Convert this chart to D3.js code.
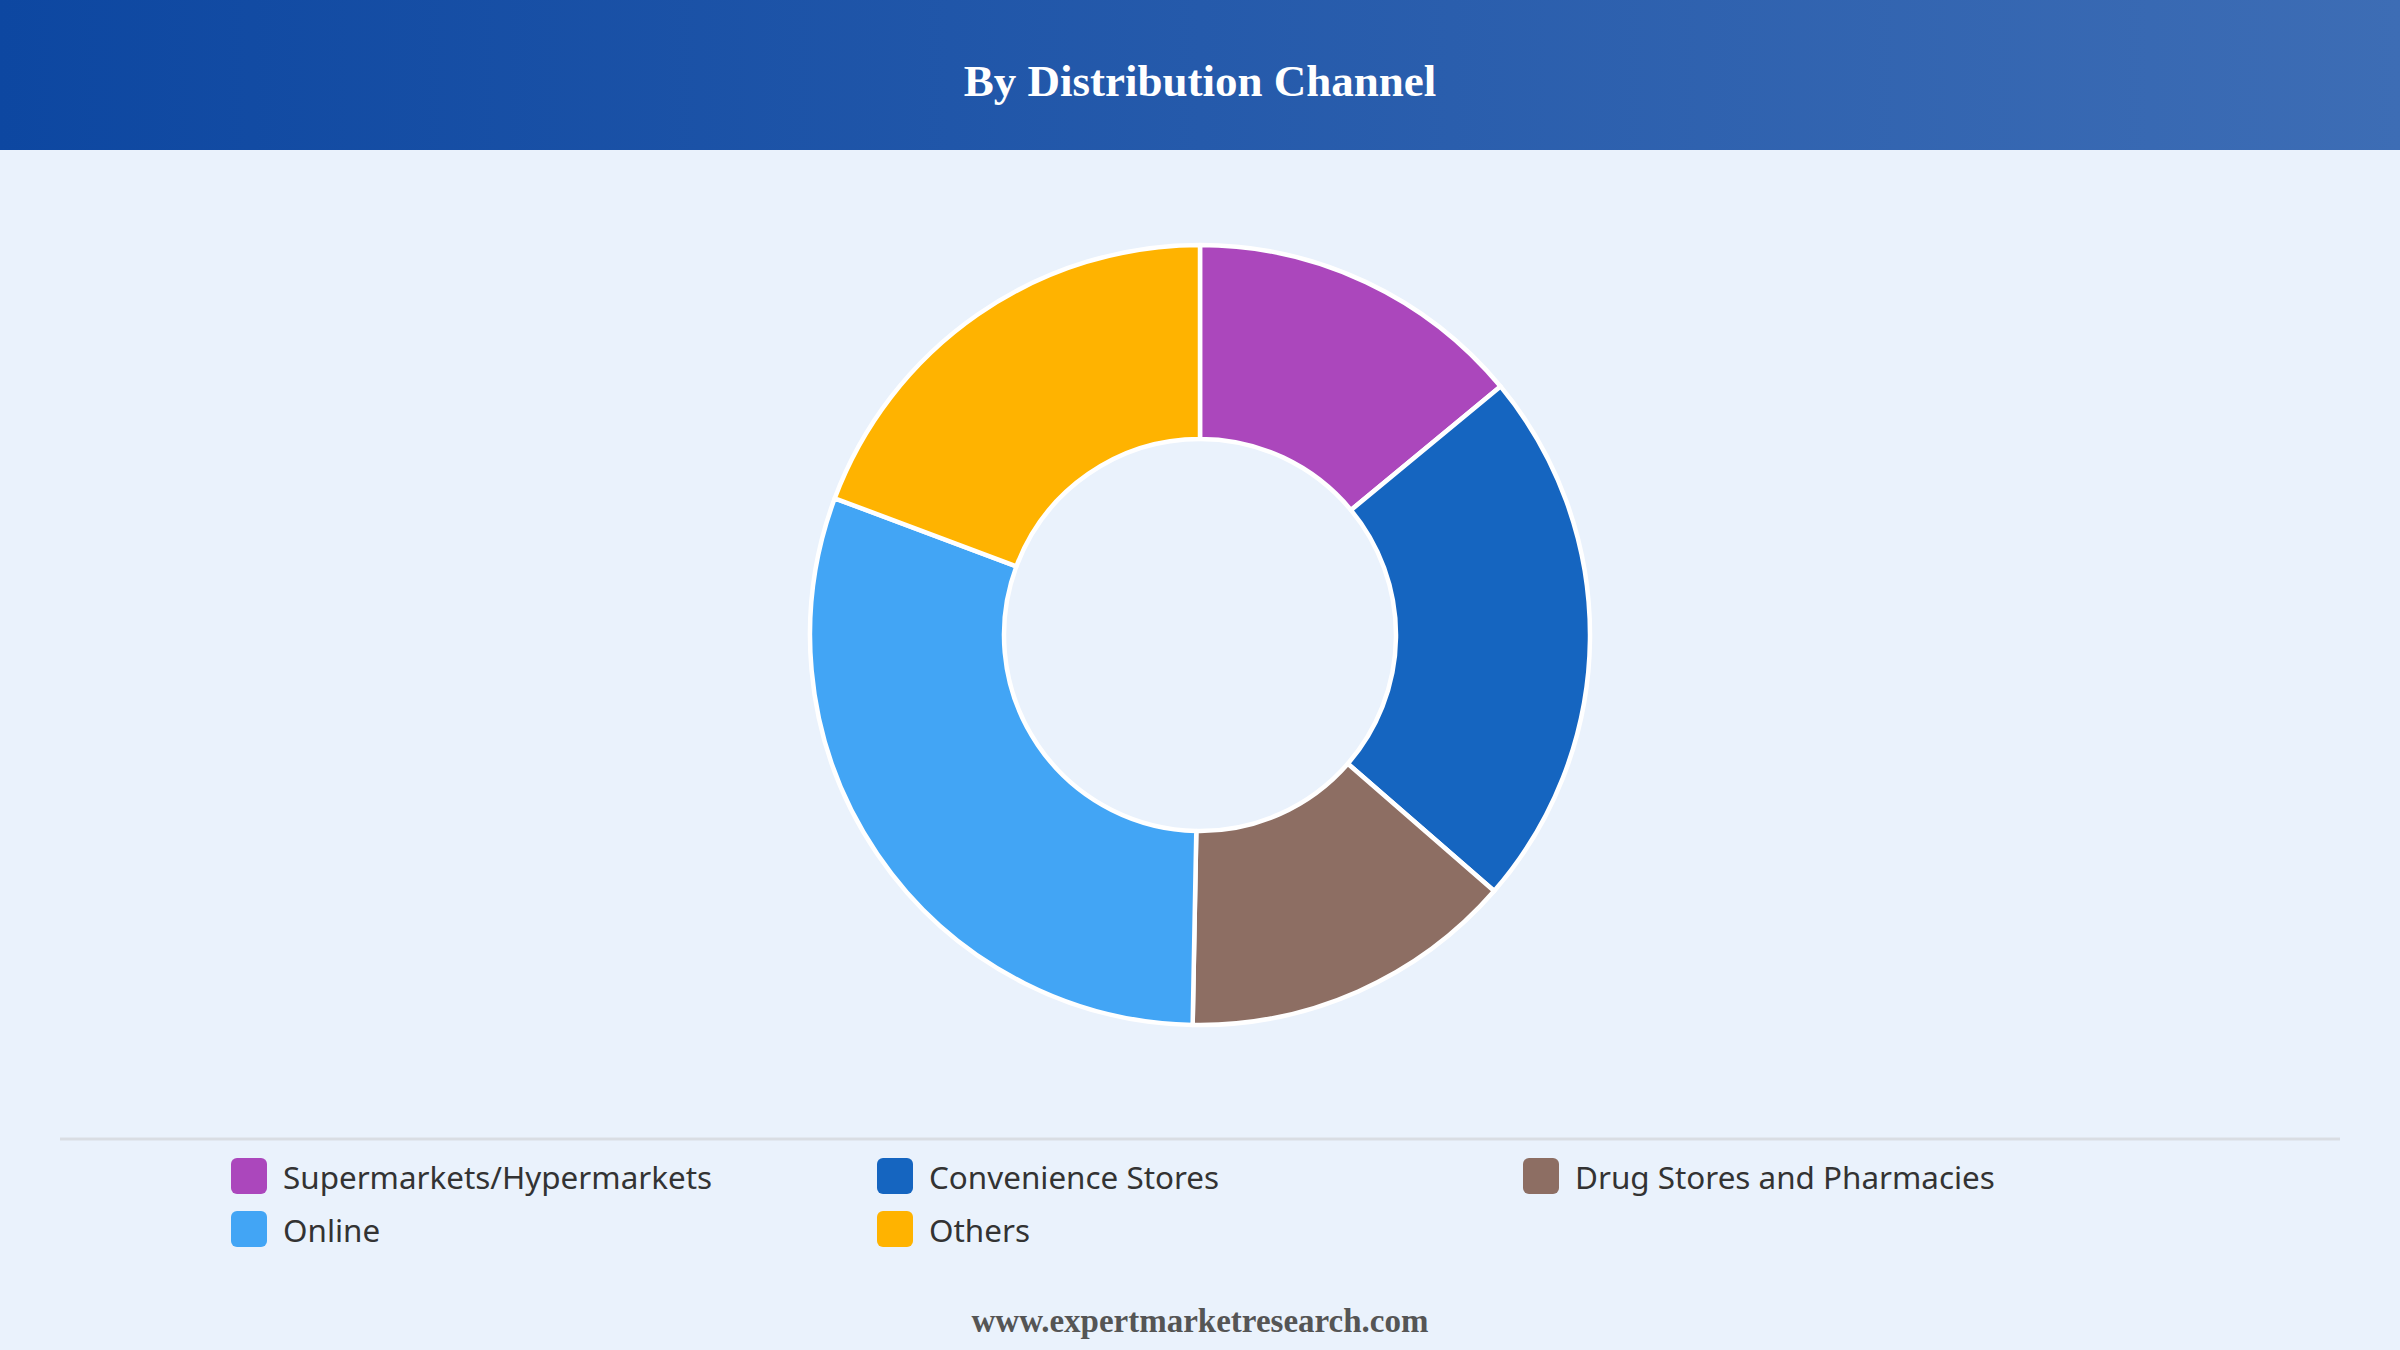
<!DOCTYPE html>
<html>
<head>
<meta charset="utf-8">
<script src="https://cdn.jsdelivr.net/npm/d3@7"></script>
<style>
  html, body { margin: 0; padding: 0; background: #eaf2fc; }
  svg { display: block; }
</style>
</head>
<body>
<div id="chart-area"></div>
<script>
// distribution channel shares (%)
const categories = ["Supermarkets/Hypermarkets", "Convenience Stores", "Drug Stores and Pharmacies", "Online", "Others"]
const shares = [14.0, 22.4, 13.9, 30.4, 19.3]
const colors = ["#ab47bc", "#1565c0", "#8d6e63", "#42a5f5", "#ffb300"]

const title = "By Distribution Channel"
const source = "www.expertmarketresearch.com"

const W = 2400, H = 1350

const svg = d3.select("#chart-area").append("svg")
	.attr("width", W)
	.attr("height", H)

svg.append("rect")
	.attr("width", W)
	.attr("height", H)
	.attr("fill", "#eaf2fc")

// header band with gradient
const grad = svg.append("defs").append("linearGradient")
	.attr("id", "hdr")
	.attr("x1", "0%").attr("x2", "100%")
	.attr("y1", "0%").attr("y2", "0%")
grad.append("stop").attr("offset", "0%").attr("stop-color", "#0d47a1")
grad.append("stop").attr("offset", "100%").attr("stop-color", "#3d6db5")

svg.append("rect")
	.attr("width", W)
	.attr("height", 150)
	.attr("fill", "url(#hdr)")

svg.append("text")
	.attr("x", W / 2)
	.attr("y", 81)
	.attr("text-anchor", "middle")
	.attr("dominant-baseline", "central")
	.attr("font-family", "'Liberation Serif', 'Times New Roman', serif")
	.attr("font-weight", "bold")
	.attr("font-size", 45)
	.attr("fill", "#fff")
	.text(title)

// donut
const cx = 1200, cy = 635
const outerR = 390, innerR = 196

const pie = d3.pie().sort(null).value(d => d)
const arc = d3.arc().innerRadius(innerR).outerRadius(outerR)
const color = d3.scaleOrdinal().domain(categories).range(colors)

const g = svg.append("g").attr("transform", `translate(${cx},${cy})`)

g.selectAll("path")
	.data(pie(shares))
	.enter().append("path")
		.attr("d", arc)
		.attr("fill", (d, i) => color(categories[i]))
		.attr("stroke", "#fff")
		.attr("stroke-width", 4.5)
		.attr("stroke-linejoin", "round")

// separator over legend
svg.append("line")
	.attr("x1", 60).attr("x2", 2340)
	.attr("y1", 1139).attr("y2", 1139)
	.attr("stroke", "#d9dde3")
	.attr("stroke-width", 3)

// legend: 3 columns
const colX = d3.scalePoint().domain([0, 1, 2]).range([231, 1523])
const rowY = d3.scalePoint().domain([0, 1]).range([1176, 1229])

const items = svg.selectAll(".legend")
	.data(categories)
	.enter().append("g")
		.attr("class", "legend")
		.attr("transform", (d, i) => `translate(${colX(i % 3)},${rowY(Math.floor(i / 3))})`)

items.append("rect")
	.attr("x", 0)
	.attr("y", -18)
	.attr("width", 36)
	.attr("height", 36)
	.attr("rx", 6)
	.attr("fill", d => color(d))

items.append("text")
	.attr("x", 52)
	.attr("y", 0)
	.attr("dominant-baseline", "central")
	.attr("font-family", "'Noto Sans', 'Open Sans', sans-serif")
	.attr("font-size", 31.4)
	.attr("fill", "#333")
	.text(d => d)

svg.append("text")
	.attr("x", W / 2)
	.attr("y", 1321)
	.attr("text-anchor", "middle")
	.attr("dominant-baseline", "central")
	.attr("font-family", "'Liberation Serif', 'Times New Roman', serif")
	.attr("font-weight", "bold")
	.attr("font-size", 33)
	.attr("fill", "#555")
	.text(source)
</script>
</body>
</html>
